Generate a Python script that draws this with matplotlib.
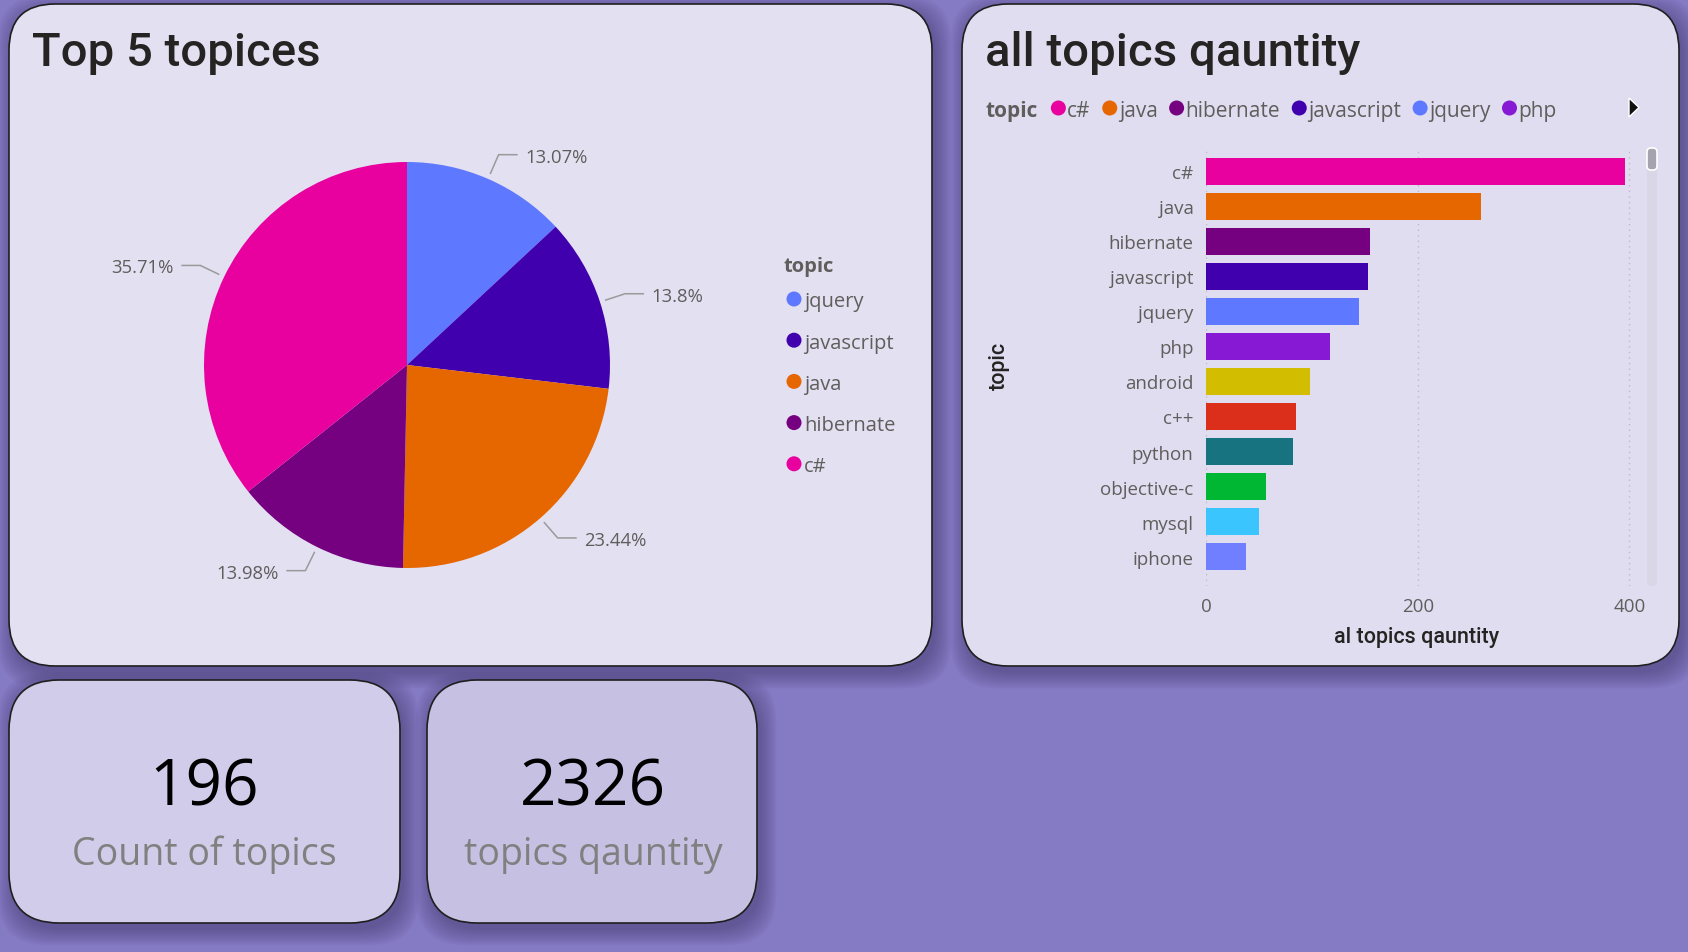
import matplotlib
matplotlib.use("Agg")
import matplotlib.pyplot as plt
from matplotlib.patches import FancyBboxPatch, Circle, Polygon
import numpy as np

# ---- data ----
pie_topics = ["jquery", "javascript", "java", "hibernate", "c#"]
pie_values = [145, 153, 260, 155, 396]

bar_topics = ["c#", "java", "hibernate", "javascript", "jquery", "php",
              "android", "c++", "python", "objective-c", "mysql", "iphone"]
bar_values = [396, 260, 155, 153, 145, 117, 98, 85, 82, 57, 50, 38]

count_of_topics = 196
topics_quantity = 2326

colors = {
    "c#": "#E8019F", "java": "#E66600", "hibernate": "#750080",
    "javascript": "#4100AE", "jquery": "#5E78FF", "php": "#8719D5",
    "android": "#D3BD00", "c++": "#DB2F1C", "python": "#177380",
    "objective-c": "#00B734", "mysql": "#3BC5FF", "iphone": "#6F7FFF",
}
legend_topics = ["c#", "java", "hibernate", "javascript", "jquery", "php"]

W, H = 1688, 953
UI = ["Open Sans", "DejaVu Sans"]
TITLE = ["Roboto", "DejaVu Sans"]
plt.rcParams["font.family"] = UI

fig = plt.figure(figsize=(W / 100, H / 100), dpi=100)
fig.patch.set_facecolor("#857AC4")
bg = fig.add_axes([0, 0, 1, 1])
bg.set_xlim(0, W)
bg.set_ylim(H, 0)
bg.axis("off")


def px_axes(x0, y0, w, h):
    return fig.add_axes([x0 / W, 1 - (y0 + h) / H, w / W, h / H])


def panel(x, y, w, h, fc, r):
    for i in range(10):
        bg.add_patch(FancyBboxPatch((x + 4, y + 7), w, h,
                                    boxstyle=f"round,pad={i * 1.7},rounding_size={r}",
                                    fc="#3a3060", ec="none", alpha=0.05, zorder=1))
    bg.add_patch(FancyBboxPatch((x, y), w, h, boxstyle=f"round,pad=0,rounding_size={r}",
                                fc=fc, ec="#1f1f1f", lw=1.2, zorder=2))


panel(9, 5, 923, 662, "#E3E0F2", 46)
panel(962, 5, 717, 662, "#E0DDF0", 46)
panel(9, 681, 391, 243, "#D0CCE9", 50)
panel(427, 681, 330, 243, "#C6C0E3", 50)

# titles
bg.text(32, 53, "Top 5 topices", fontsize=34, family=TITLE, fontweight="medium",
        color="#252423", va="center", ha="left", zorder=5)
bg.text(985, 53, "all topics qauntity", fontsize=34, family=TITLE, fontweight="medium",
        color="#252423", va="center", ha="left", zorder=5)

# ---- pie ----
R = 203
pie_ax = px_axes(407 - 260, 366 - 260, 520, 520)
pie_ax.axis("off")
pie_ax.patch.set_alpha(0)
wedges, _ = pie_ax.pie(pie_values, colors=[colors[t] for t in pie_topics],
                       startangle=90, counterclock=False, radius=1,
                       wedgeprops=dict(linewidth=0))
pie_ax.set_xlim(-260 / R, 260 / R)
pie_ax.set_ylim(-260 / R, 260 / R)
total = sum(pie_values)
for w_, v in zip(wedges, pie_values):
    ang = np.deg2rad((w_.theta1 + w_.theta2) / 2)
    c, s = np.cos(ang), np.sin(ang)
    sign = 1 if c >= 0 else -1
    p1 = (1.03 * c, 1.03 * s)
    p2 = (1.13 * c, 1.13 * s)
    p3 = (p2[0] + sign * 0.09, p2[1])
    pie_ax.plot([p1[0], p2[0], p3[0]], [p1[1], p2[1], p3[1]], color="#9a9a9a",
                lw=1.1, clip_on=False)
    pct = f"{v / total * 100:.2f}".rstrip("0").rstrip(".") + "%"
    pie_ax.text(p3[0] + sign * 0.04, p3[1], pct, fontsize=13.3, color="#605E5C",
                ha="left" if sign > 0 else "right", va="center_baseline", clip_on=False)

# pie legend
bg.text(784, 265, "topic", fontsize=14.5, fontweight="bold", color="#605E5C",
        va="center_baseline", ha="left", zorder=5)
for i, t in enumerate(pie_topics):
    yy = 300 + i * 41.2
    bg.add_patch(Circle((794, yy), 7.5, fc=colors[t], ec="none", zorder=5))
    bg.text(804, yy, t, fontsize=14.5, color="#605E5C", va="center_baseline",
            ha="left", zorder=5)

# ---- bar chart ----
bx0, by0, bx1, by1 = 1206, 152, 1640, 587
bax = px_axes(bx0, by0, bx1 - bx0, by1 - by0)
bax.patch.set_alpha(0)
ypos = np.arange(len(bar_topics))
bax.barh(ypos, bar_values, height=0.76, color=[colors[t] for t in bar_topics],
         edgecolor="none", zorder=3)
bax.set_xlim(0, 410)
bax.set_ylim(11.84, -0.58)
bax.set_xticks([0, 200, 400])
bax.set_yticks(ypos)
bax.set_yticklabels(bar_topics)
bax.grid(axis="x", color="#BDBBC8", linestyle=(0, (1, 3)), lw=1)
bax.tick_params(length=0, labelsize=13.5, labelcolor="#605E5C")
bax.tick_params(axis="y", pad=9)
bax.tick_params(axis="x", pad=8)
for sp in bax.spines.values():
    sp.set_visible(False)
bax.set_xlabel("al topics qauntity", fontsize=15.5, color="#252423", family=TITLE,
               fontweight="medium")
bax.xaxis.set_label_coords((1417 - bx0) / (bx1 - bx0), -0.092)
bg.text(999, 366, "topic", fontsize=15.5, color="#252423", family=TITLE,
        fontweight="medium", rotation=90, va="center", ha="center", zorder=5)

# bar legend row
renderer = fig.canvas.get_renderer()
t0 = bg.text(985, 109, "topic", fontsize=15, fontweight="bold", color="#605E5C",
             va="center_baseline", ha="left", zorder=5)
x = 985 + t0.get_window_extent(renderer).width + 21
for t in legend_topics:
    bg.add_patch(Circle((x, 109), 7.5, fc=colors[t], ec="none", zorder=5))
    tt = bg.text(x + 9, 109, t, fontsize=15, color="#605E5C", va="center_baseline",
                 ha="left", zorder=5)
    x = x + 9 + tt.get_window_extent(renderer).width + 19

bg.add_patch(Polygon([[1629, 99], [1629, 118], [1639, 108.5]], closed=True,
                     fc="#111111", ec="white", lw=1, zorder=5))

# scrollbar
bg.add_patch(FancyBboxPatch((1647, 149), 10, 438, boxstyle="round,pad=0,rounding_size=4",
                            fc="#D9D7E5", ec="none", zorder=4))
bg.add_patch(FancyBboxPatch((1647, 149), 10, 22, boxstyle="round,pad=0,rounding_size=4",
                            fc="#A5A3AD", ec="white", lw=1.2, zorder=5))

# ---- cards ----
bg.text(204, 789, str(count_of_topics), fontsize=46, color="#000000",
        ha="center", va="center", zorder=5)
bg.text(204, 855, "Count of topics", fontsize=27, color="#808080",
        ha="center", va="center", zorder=5)
bg.text(593, 789, str(topics_quantity), fontsize=46, color="#000000",
        ha="center", va="center", zorder=5)
bg.text(593, 855, "topics qauntity", fontsize=27, color="#808080",
        ha="center", va="center", zorder=5)

fig.savefig("out.png", dpi=100, facecolor=fig.get_facecolor())
